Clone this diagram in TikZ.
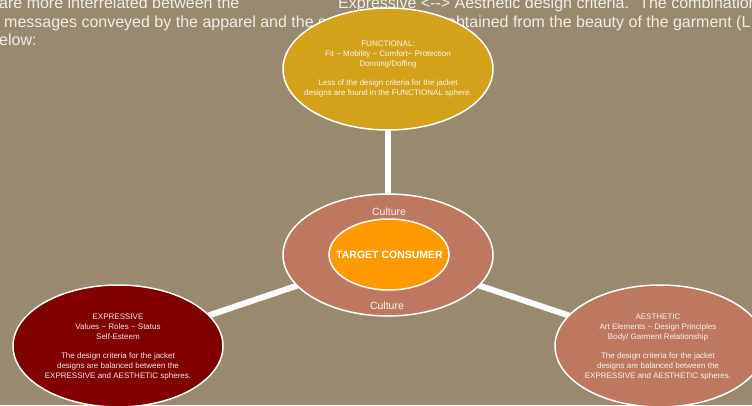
\documentclass[tikz,border=0pt]{standalone}
\usepackage{fontspec}
\setmainfont{Liberation Sans}
\usetikzlibrary{shapes.geometric}
\definecolor{slidebg}{RGB}{152,137,111}
\definecolor{gold}{RGB}{212,161,26}
\definecolor{terra}{RGB}{190,120,96}
\definecolor{core}{RGB}{255,155,0}
\definecolor{maroon}{RGB}{128,0,0}
\definecolor{paper}{RGB}{242,238,230}
\pgfdeclarelayer{bg}
\pgfdeclarelayer{links}
\pgfsetlayers{bg,links,main}
\tikzset{
  sphere/.style={ellipse, draw=white, line width=1.5pt, minimum width=210pt,
    minimum height=122pt, inner sep=0pt, outer sep=0pt},
  spheretext/.style={align=center, text=white, text opacity=0.9,
    font=\fontsize{8}{9.7}\selectfont},
  toptext/.style={anchor=base west, inner sep=0pt, text=paper,
    font=\fontsize{16}{18}\selectfont},
  culture/.style={text=white, text opacity=0.9, inner sep=0pt,
    font=\fontsize{10.5}{12}\selectfont},
  link/.style={white, line width=6pt}
}

\begin{document}
\begin{tikzpicture}[x=1pt, y=-1pt]
  \useasboundingbox (0,0) rectangle (752,405);
  \begin{pgfonlayer}{bg}
    \fill[slidebg] (0,0) rectangle (752,405);
    % paragraph behind the diagram
    \node[toptext] (introa) at (-1,8.3) {are more interrelated between the};
    \node[toptext] (introb) at (338,8.3) {Expressive <-{}-> Aesthetic design criteria.~ The combination};
    \node[toptext] (introc) at (4,27) {messages conveyed by the apparel and the s};
    \node[toptext] (introd) at (447,27) {obtained from the beauty of the garment (L};
    \node[toptext] (introe) at (-1,45.5) {elow:};
  \end{pgfonlayer}

  % spheres
  \node[sphere, fill=gold] (func) at (388,69) {};
  \node[sphere, fill=terra] (ring) at (388,255) {};
  \node[sphere, fill=core, minimum width=120pt, minimum height=71pt] (target) at (389,254.5) {};
  \node[sphere, fill=maroon] (expr) at (118,346) {};
  \node[sphere, fill=terra] (aest) at (660,346) {};

  % texts
  \node[spheretext] (functxt) at (func) {FUNCTIONAL:\\ Fit \textasciitilde{} Mobility \textasciitilde{} Comfort\textasciitilde{} Protection\\ Donning/Doffing\\[9.7pt] Less of the design criteria for the jacket\\ designs are found in the FUNCTIONAL sphere.};
  \node[culture] (cultop) at (389,212) {Culture};
  \node[culture] (culbot) at (387,306) {Culture};
  \node[text=white, inner sep=0pt, font=\bfseries\fontsize{10.5}{12}\selectfont] (tgttxt) at (389.5,255) {TARGET CONSUMER};
  \node[spheretext] (exprtxt) at (118,347) {EXPRESSIVE\\ Values \textasciitilde{} Roles \textasciitilde{} Status\\ Self-Esteem\\[9.7pt] The design criteria for the jacket\\ designs are balanced between the\\ EXPRESSIVE and AESTHETIC spheres.};
  \node[spheretext] (aesttxt) at (658,347) {AESTHETIC\\ Art Elements \textasciitilde{} Design Principles\\ Body/ Garment Relationship\\[9.7pt] The design criteria for the jacket\\ designs are balanced between the\\ EXPRESSIVE and AESTHETIC spheres.};

  \begin{pgfonlayer}{links}
    \draw[link] (func) -- (ring);
    \draw[link] (ring) -- (expr);
    \draw[link] (ring) -- (aest);
  \end{pgfonlayer}
\end{tikzpicture}
\end{document}
